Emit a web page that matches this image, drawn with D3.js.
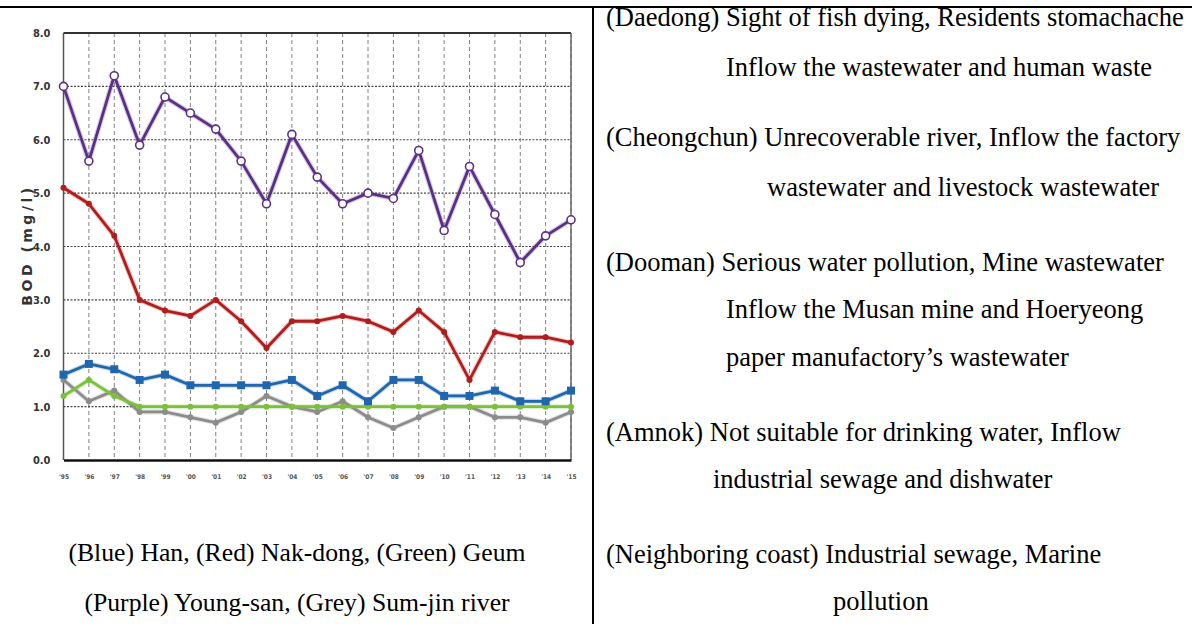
<!DOCTYPE html>
<html><head><meta charset="utf-8">
<script src="https://cdn.jsdelivr.net/npm/d3@7"></script>
<style>body{margin:0;background:#fff;overflow:hidden}</style>
</head><body>
<svg id="c" width="1192" height="624"></svg>
<script>
// ---------- data ----------
const years = ["'95","'96","'97","'98","'99","'00","'01","'02","'03","'04","'05","'06","'07","'08","'09","'10","'11","'12","'13","'14","'15"];
const yTicks = [0,1,2,3,4,5,6,7,8];
const han      = [1.6,1.8,1.7,1.5,1.6,1.4,1.4,1.4,1.4,1.5,1.2,1.4,1.1,1.5,1.5,1.2,1.2,1.3,1.1,1.1,1.3];
const nakdong  = [5.1,4.8,4.2,3.0,2.8,2.7,3.0,2.6,2.1,2.6,2.6,2.7,2.6,2.4,2.8,2.4,1.5,2.4,2.3,2.3,2.2];
const geum     = [1.2,1.5,1.2,1.0,1.0,1.0,1.0,1.0,1.0,1.0,1.0,1.0,1.0,1.0,1.0,1.0,1.0,1.0,1.0,1.0,1.0];
const youngsan = [7.0,5.6,7.2,5.9,6.8,6.5,6.2,5.6,4.8,6.1,5.3,4.8,5.0,4.9,5.8,4.3,5.5,4.6,3.7,4.2,4.5];
const sumjin   = [1.5,1.1,1.3,0.9,0.9,0.8,0.7,0.9,1.2,1.0,0.9,1.1,0.8,0.6,0.8,1.0,1.0,0.8,0.8,0.7,0.9];
const captionLines = ["(Blue) Han, (Red) Nak-dong, (Green) Geum", "(Purple) Young-san, (Grey) Sum-jin river"];
const noteLines = [
  "(Daedong) Sight of fish dying, Residents stomachache",
  "Inflow the wastewater and human waste",
  "(Cheongchun) Unrecoverable river, Inflow the factory",
  "wastewater and livestock wastewater",
  "(Dooman) Serious water pollution, Mine wastewater",
  "Inflow the Musan mine and Hoeryeong",
  "paper manufactory\u2019s wastewater",
  "(Amnok) Not suitable for drinking water, Inflow",
  "industrial sewage and dishwater",
  "(Neighboring coast) Industrial sewage, Marine",
  "pollution"
];

// ---------- layout ----------
const noteX = [606,726,606,767,606,726,726,606,713,606,833];
const noteY = [18,68,138,188,263,310,358,433,480,555,602];
const svg = d3.select("#c");
const x = d3.scalePoint().domain(years).range([63.5, 571]);
const y = d3.scaleLinear().domain([0,8]).range([460, 33]);

// frame lines
svg.append("line").attr("x1",0).attr("x2",1192).attr("y1",7).attr("y2",7).attr("stroke","#000").attr("stroke-width",2);
svg.append("line").attr("x1",593).attr("x2",593).attr("y1",7).attr("y2",624).attr("stroke","#000").attr("stroke-width",2);

const g = svg.append("g");
// vertical grid
g.selectAll(".vg").data(years).join("line")
  .attr("x1",d=>x(d)).attr("x2",d=>x(d)).attr("y1",y(8)).attr("y2",y(0))
  .attr("stroke","#808080").attr("stroke-width",1).attr("stroke-dasharray","4,3");
// horizontal grid
g.selectAll(".hg").data(yTicks.filter(t=>t>0&&t<8)).join("line")
  .attr("x1",x.range()[0]).attr("x2",x.range()[1]).attr("y1",d=>y(d)).attr("y2",d=>y(d))
  .attr("stroke","#444").attr("stroke-width",1.2).attr("stroke-dasharray","2,1.5");
// borders
g.append("line").attr("x1",x.range()[0]).attr("x2",x.range()[1]).attr("y1",y(8)).attr("y2",y(8)).attr("stroke","#333").attr("stroke-width",2);
g.append("line").attr("x1",x.range()[1]).attr("x2",x.range()[1]).attr("y1",y(8)).attr("y2",y(0)).attr("stroke","#666").attr("stroke-width",1.5);
g.append("line").attr("x1",x.range()[0]).attr("x2",x.range()[0]).attr("y1",y(8)).attr("y2",y(0)).attr("stroke","#555").attr("stroke-width",1.5);

// axes via d3
const yAxis = d3.axisLeft(y).tickValues(yTicks).tickFormat(d3.format(".1f")).tickSize(0).tickPadding(13);
const ya = svg.append("g").attr("transform",`translate(${x.range()[0]},0)`).call(yAxis);
ya.select(".domain").remove();
ya.selectAll("text").attr("font-family","'Liberation Sans Narrow','DejaVu Sans Condensed',sans-serif")
  .attr("font-weight","bold").attr("font-size",11).attr("fill","#333");

const xAxis = d3.axisBottom(x).tickSize(0).tickPadding(14);
const xa = svg.append("g").attr("transform",`translate(0,${y(0)})`).call(xAxis);
xa.select(".domain").attr("stroke","#111").attr("stroke-width",2.5);
xa.selectAll("text").attr("font-family","'DejaVu Sans Condensed',sans-serif")
  .attr("font-weight","bold").attr("font-size",6.5).attr("fill","#555");

// y title
svg.append("text").attr("transform","translate(32,245) rotate(-90)")
  .attr("text-anchor","middle").attr("font-family","'DejaVu Sans',sans-serif")
  .attr("font-weight","bold").attr("font-size",14).attr("letter-spacing",3.5).attr("fill","#333")
  .text("BOD (mg/l)");

// series
const series = [
  {v:sumjin,   c:"#8c8c8c", m:"dot",  r:3},
  {v:geum,     c:"#7cbf3c", m:"dot",  r:3},
  {v:han,      c:"#1f66ae", m:"sq",   r:4},
  {v:nakdong,  c:"#b11d1d", m:"dot",  r:3},
  {v:youngsan, c:"#5b2f86", m:"open", r:4}
];
const line = d3.line().x((d,i)=>x(years[i])).y(d=>y(d));
series.forEach(s=>{
  g.append("path").datum(s.v).attr("d",line).attr("fill","none")
    .attr("stroke",s.c).attr("stroke-opacity",0.25).attr("stroke-width",5).attr("stroke-linejoin","round");
  g.append("path").datum(s.v).attr("d",line).attr("fill","none")
    .attr("stroke",s.c).attr("stroke-width",2.8).attr("stroke-linejoin","round");
  if (s.m==="sq") {
    g.selectAll(null).data(s.v).join("rect")
      .attr("x",(d,i)=>x(years[i])-s.r).attr("y",d=>y(d)-s.r)
      .attr("width",s.r*2).attr("height",s.r*2).attr("fill",s.c);
  } else {
    g.selectAll(null).data(s.v).join("circle")
      .attr("cx",(d,i)=>x(years[i])).attr("cy",d=>y(d)).attr("r",s.r)
      .attr("fill",s.m==="open"?"#fff":s.c).attr("stroke",s.c).attr("stroke-width",s.m==="open"?1.6:0);
  }
});

// caption
svg.selectAll(".cap").data(captionLines).join("text")
  .attr("x",297).attr("y",(d,i)=>561+i*50).attr("text-anchor","middle")
  .attr("font-family","'Liberation Serif','Times New Roman',serif").attr("font-size",25.7).attr("fill","#000")
  .text(d=>d);

// notes
svg.selectAll(".note").data(noteLines).join("text")
  .attr("x",(d,i)=>noteX[i]).attr("y",(d,i)=>noteY[i]+8)
  .attr("font-family","'Liberation Serif','Times New Roman',serif").attr("font-size",26.5).attr("fill","#000")
  .text(d=>d);
</script>
</body></html>
